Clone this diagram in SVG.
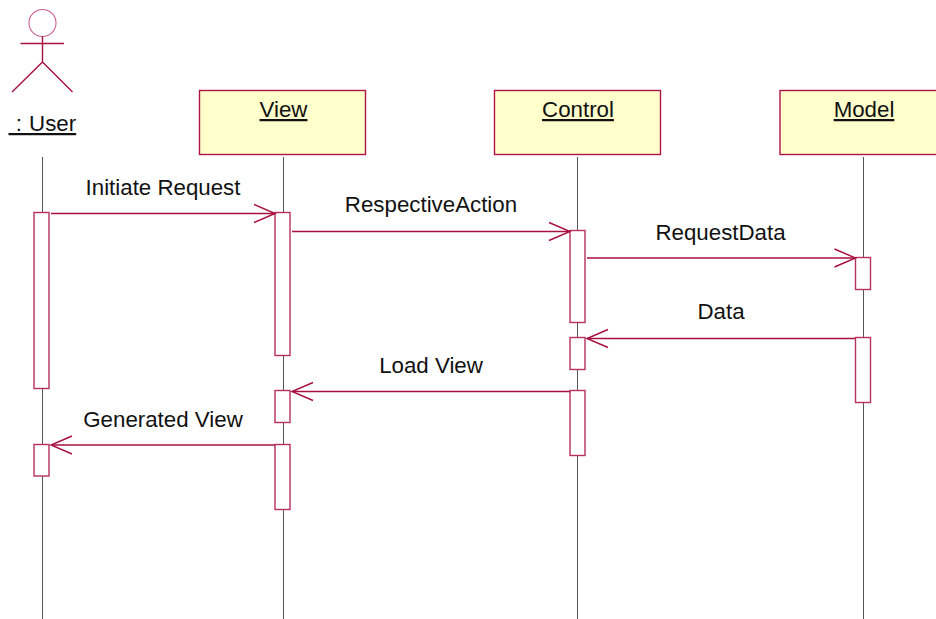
<svg xmlns="http://www.w3.org/2000/svg" width="936" height="619" viewBox="0 0 936 619">
<style>
text{font-family:"Liberation Sans",Arial,sans-serif;font-size:22.3px;fill:#111}
.u{text-decoration:underline}
.m{text-anchor:middle}
.life{stroke:#555;stroke-width:1;fill:none}
.act{fill:#fff;stroke:#b8305f;stroke-width:1.4}
.obj{fill:#ffffcc;stroke:#b0124a;stroke-width:1.4}
.msg{stroke:#a8103f;stroke-width:1.4;fill:none}
</style>
<defs>
<marker id="arr" markerUnits="userSpaceOnUse" markerWidth="24" markerHeight="20" refX="21" refY="9" orient="auto" overflow="visible">
<path d="M0 0L21 9L0 18" fill="none" stroke="#a8103f" stroke-width="1.4"/>
</marker>
</defs>
<rect width="936" height="619" fill="#fff"/>
<g id="lifelines">
<path class="life" d="M42.500 157V619M283.500 157V619M577.500 157V619M863.500 157V619"/>
</g>
<g id="user">
<circle cx="42.500" cy="23" r="13.500" fill="#fff" stroke="#c9608a" stroke-width="1.100"/>
<path class="msg" d="M42.500 36.500V62M20.500 43.500H64M42.500 62L12 92M42.500 62L72.500 92"/>
<text x="8.500" y="131" class="u" xml:space="preserve" word-spacing="1">&#160;: User</text>
</g>
<g id="view">
<rect class="obj" x="199.500" y="90.500" width="166" height="64"/>
<text x="283.500" y="117" class="m u">View</text>
</g>
<g id="control">
<rect class="obj" x="494.500" y="90.500" width="166" height="64"/>
<text x="578" y="117" class="m u">Control</text>
</g>
<g id="model">
<rect class="obj" x="780" y="90.500" width="166" height="64"/>
<text x="864" y="117" class="m u">Model</text>
</g>
<g id="activations">
<rect class="act" x="34" y="212.500" width="15" height="176"/>
<rect class="act" x="34" y="444.500" width="15" height="31.500"/>
<rect class="act" x="275" y="212.500" width="15" height="143"/>
<rect class="act" x="275" y="390.500" width="15" height="32"/>
<rect class="act" x="275" y="444.500" width="15" height="65"/>
<rect class="act" x="570" y="230.500" width="15" height="92"/>
<rect class="act" x="570" y="337.500" width="15" height="32"/>
<rect class="act" x="570" y="390.500" width="15" height="65"/>
<rect class="act" x="855.500" y="257.500" width="15" height="32"/>
<rect class="act" x="855.500" y="337.500" width="15" height="65"/>
</g>
<g id="connectors">
<path class="msg" marker-end="url(#arr)" d="M51 213.500H275"/>
<path class="msg" marker-end="url(#arr)" d="M292 231.500H570"/>
<path class="msg" marker-end="url(#arr)" d="M587 258H855.500"/>
<path class="msg" marker-end="url(#arr)" d="M855 338.500H587"/>
<path class="msg" marker-end="url(#arr)" d="M570 391.500H292"/>
<path class="msg" marker-end="url(#arr)" d="M275 445H51"/>
</g>
<g id="labels">
<text x="163" y="195" class="m">Initiate Request</text>
<text x="431" y="212" class="m">RespectiveAction</text>
<text x="720.500" y="240" class="m">RequestData</text>
<text x="721" y="319" class="m">Data</text>
<text x="431" y="373" class="m">Load View</text>
<text x="163" y="427" class="m">Generated View</text>
</g>
</svg>
